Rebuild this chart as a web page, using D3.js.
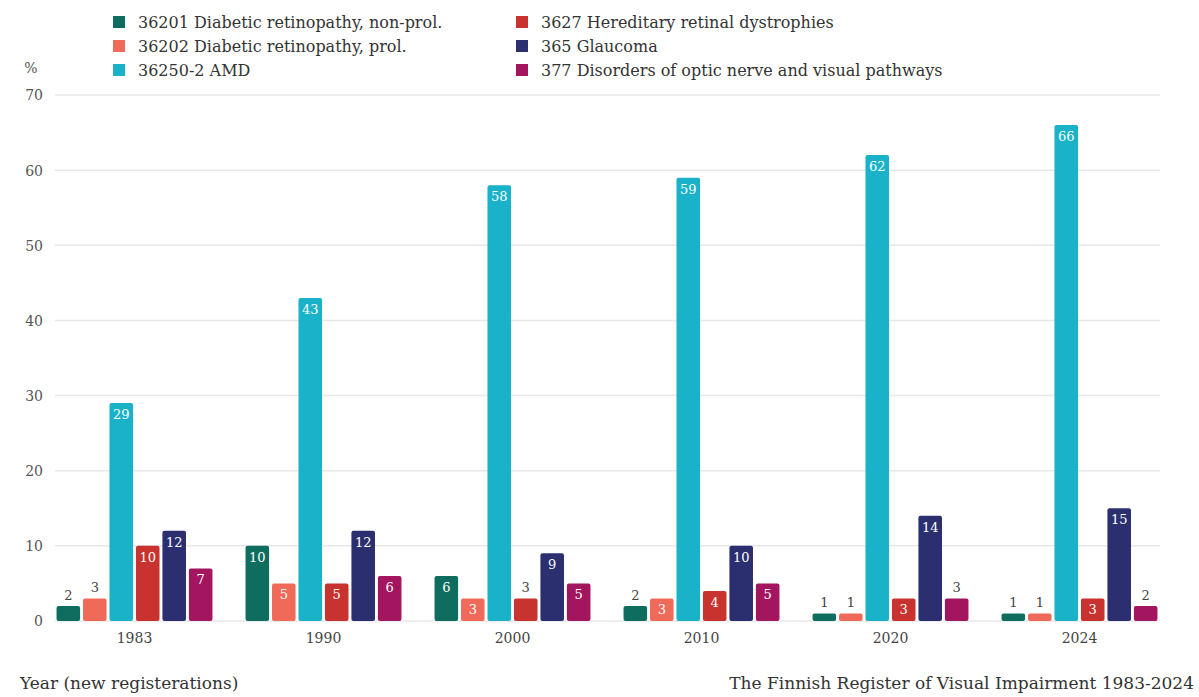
<!DOCTYPE html>
<html>
<head>
<meta charset="utf-8">
<script src="https://cdn.jsdelivr.net/npm/d3@7"></script>
<style>
  html, body { margin: 0; padding: 0; background: #fff; }
  svg { display: block; font-family: "DejaVu Serif", "Liberation Serif", serif; }
</style>
</head>
<body>
<svg id="chart" width="1199" height="697"></svg>
<script>
// Share of new registrations (%) by main cause of visual impairment
const years = ["1983", "1990", "2000", "2010", "2020", "2024"];
const seriesNames = [
  "36201 Diabetic retinopathy, non-prol.",
  "36202 Diabetic retinopathy, prol.",
  "36250-2 AMD",
  "3627 Hereditary retinal dystrophies",
  "365 Glaucoma",
  "377 Disorders of optic nerve and visual pathways"
];
const seriesColors = ["#0f6d5f", "#f06a5a", "#19b2c8", "#c8332f", "#2c2f6f", "#a3165f"];

// one array per series, values in year order
const diabeticNonProl = [2, 10, 6, 2, 1, 1];
const diabeticProl    = [3, 5, 3, 3, 1, 1];
const amd             = [29, 43, 58, 59, 62, 66];
const hereditary      = [10, 5, 3, 4, 3, 3];
const glaucoma        = [12, 12, 9, 10, 14, 15];
const opticNerve      = [7, 6, 5, 5, 3, 2];
const seriesValues = [diabeticNonProl, diabeticProl, amd, hereditary, glaucoma, opticNerve];

// value labels that sit above their bar rather than inside it (series x year)
const labelAbove = [
  [true, false, false, true, true, true],
  [true, false, false, false, true, true],
  [false, false, false, false, false, false],
  [false, false, true, false, false, false],
  [false, false, false, false, false, false],
  [false, false, false, false, true, true]
];

const yTicks = [0, 10, 20, 30, 40, 50, 60, 70];

const svg = d3.select("#chart");

const x0 = d3.scaleBand().domain(years).range([40, 1174])
  .paddingInner(0.175).paddingOuter(0.0875);
const x1 = d3.scaleBand().domain(d3.range(seriesNames.length))
  .range([0, x0.bandwidth()]).paddingInner(0.11).paddingOuter(0);
const y = d3.scaleLinear().domain([0, 70]).range([621, 95]);

// gridlines
svg.append("g").selectAll("line").data(yTicks).join("line")
  .attr("x1", 55).attr("x2", 1160)
  .attr("y1", d => y(d)).attr("y2", d => y(d))
  .attr("stroke", "#e8e8e8").attr("stroke-width", 1.5);

// y tick labels
const yAxis = d3.axisLeft(y).tickValues(yTicks).tickSize(0).tickPadding(0);
const yG = svg.append("g").attr("transform", "translate(43,0)").call(yAxis);
yG.select(".domain").remove();
yG.selectAll("text")
  .attr("font-family", "DejaVu Serif, serif")
  .attr("font-size", 14)
  .attr("fill", "#555")
  .attr("dy", "0.35em");

// "%" unit label
svg.append("text").attr("x", 31).attr("y", 68).attr("dy", "0.35em").attr("text-anchor", "middle")
  .attr("font-size", 14).attr("fill", "#555").text("%");

// bars
const groups = svg.append("g").selectAll("g").data(years).join("g")
  .attr("transform", d => `translate(${x0(d)},0)`);

groups.each(function(year, yi) {
  const g = d3.select(this);
  seriesValues.forEach((vals, si) => {
    const v = vals[yi];
    const bx = x1(si), bw = x1.bandwidth();
    g.append("rect")
      .attr("x", bx).attr("width", bw)
      .attr("y", y(v)).attr("height", y(0) - y(v))
      .attr("rx", 2)
      .attr("fill", seriesColors[si]);
    const above = labelAbove[si][yi];
    g.append("text")
      .attr("x", bx + bw / 2)
      .attr("y", above ? y(v) - 6 : y(v) + 16)
      .attr("text-anchor", "middle")
      .attr("font-size", 13)
      .attr("fill", above ? "#444" : "#fff")
      .text(v);
  });
});

// x axis year labels
const xAxis = d3.axisBottom(x0).tickSize(0).tickPadding(0);
const xG = svg.append("g").attr("transform", "translate(0,638)").call(xAxis);
xG.select(".domain").remove();
xG.selectAll("text")
  .attr("font-family", "DejaVu Serif, serif")
  .attr("font-size", 14)
  .attr("fill", "#444")
  .attr("dy", "0.35em");

// legend, two columns of three
const legend = svg.append("g");
seriesNames.forEach((name, i) => {
  const col = Math.floor(i / 3), row = i % 3;
  const lx = col === 0 ? 113 : 516;
  const ly = 22 + row * 24;
  legend.append("rect").attr("x", lx).attr("y", ly - 6).attr("width", 12).attr("height", 12)
    .attr("fill", seriesColors[i]);
  legend.append("text").attr("x", lx + 25).attr("y", ly).attr("dy", "0.35em")
    .attr("font-size", 16).attr("fill", "#333").text(name);
});

// footer texts
svg.append("text").attr("x", 20).attr("y", 689)
  .attr("font-size", 17).attr("fill", "#333").text("Year (new registerations)");
svg.append("text").attr("x", 1194).attr("y", 689).attr("text-anchor", "end")
  .attr("font-size", 17).attr("fill", "#333")
  .text("The Finnish Register of Visual Impairment 1983-2024");
</script>
</body>
</html>
